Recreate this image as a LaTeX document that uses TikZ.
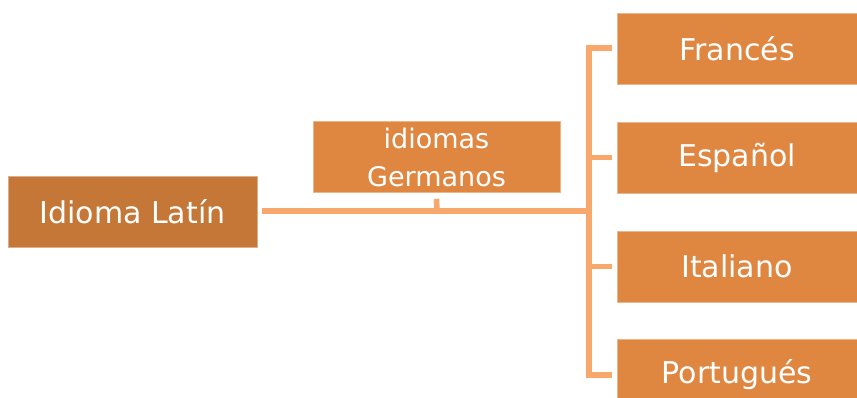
\documentclass[tikz,border=0pt]{standalone}
\usepackage{fontspec}
\setmainfont{DejaVu Sans}
\definecolor{darkbox}{HTML}{C47736}
\definecolor{box}{HTML}{DF8641}
\definecolor{conn}{HTML}{F8A86B}
\begin{document}
\begin{tikzpicture}[x=1pt,y=-1pt,
  bx/.style={fill=box,draw=box!60!white,line width=0.6pt,text=white,inner sep=0pt,
    minimum width=240pt,minimum height=71pt,font=\fontsize{30}{36}\selectfont,align=center},
  cn/.style={draw=conn,line width=5.5pt}]
\useasboundingbox (0,0) rectangle (857,398);
\clip (0,0) rectangle (857,398);
\node[bx,fill=darkbox,draw=darkbox!60!white,minimum width=249pt] (latin) at (132.5,212) {Idioma Latín};
\node[bx,minimum width=247pt,font=\fontsize{27}{38}\selectfont] (germ) at (436.5,157) {idiomas\\Germanos};
\node[bx] (fr) at (737,48.5) {Francés};
\node[bx] (es) at (737,157.5) {Español};
\node[bx] (it) at (737,266.5) {Italiano};
\node[bx] (pt) at (737,374.5) {Portugués};
\coordinate (j) at (589,211);
\coordinate (jt) at (589,48);
\coordinate (jb) at (589,375);
\coordinate (g) at (437,211);
\draw[cn] ([xshift=5pt]latin.east|-j) -- (j);
\draw[cn] ([xshift=-5pt]fr.west|-jt) -- (jt) -- (jb) -- ([xshift=-5pt]pt.west|-jb);
\draw[cn] (g) -- ([yshift=-6pt]germ.south);
\draw[cn] (es.west-|j) -- ([xshift=-5pt]es.west);
\draw[cn] (it.west-|j) -- ([xshift=-5pt]it.west);
\end{tikzpicture}
\end{document}
